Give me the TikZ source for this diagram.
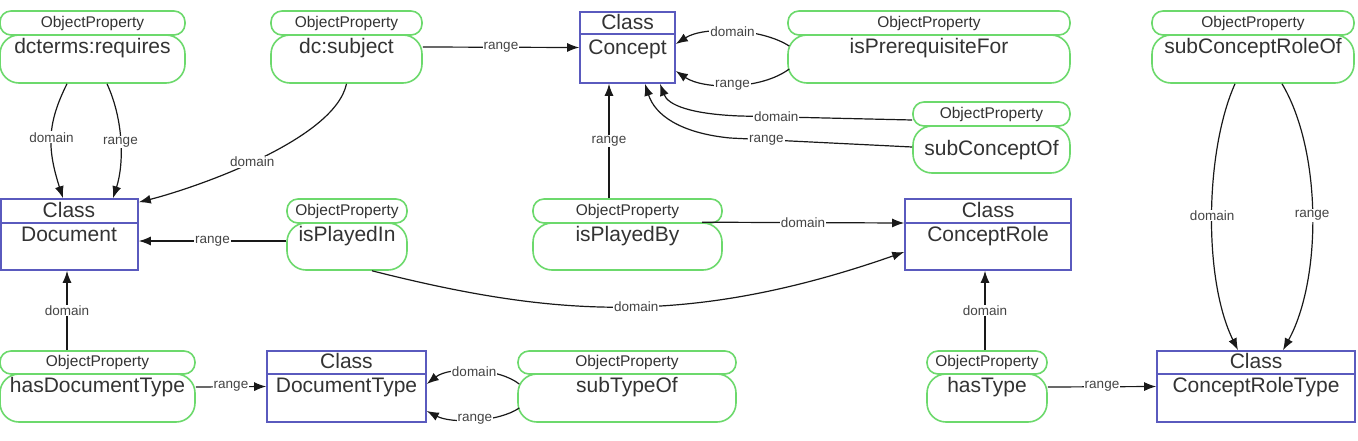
\documentclass[tikz,border=0pt]{standalone}
\usepackage{fontspec}
\setmainfont{Liberation Sans}
\usetikzlibrary{arrows.meta}
\definecolor{pgreen}{HTML}{6CD96C}
\definecolor{cblue}{HTML}{5A5ABE}
\definecolor{txt}{HTML}{333333}
\definecolor{lbltxt}{HTML}{444444}
\tikzset{
  phead/.style={draw=pgreen, line width=1.6pt, fill=white, rounded corners=11pt, inner sep=0pt, minimum height=24pt, text=txt, font=\fontsize{15.5}{15.5}\selectfont},
  pbody/.style={draw=pgreen, line width=1.6pt, fill=white, rounded corners=19pt, inner sep=0pt, minimum height=48pt},
  nm/.style={anchor=base, inner sep=0pt, text=txt, font=\fontsize{21}{21}\selectfont},
  cbox/.style={draw=cblue, line width=1.6pt, fill=white, inner sep=0pt, minimum height=71pt},
  cdiv/.style={draw=cblue, line width=1.6pt},
  edge/.style={draw=black!90, line width=1.2pt, -{Latex[length=12pt,width=9pt]}},
  lbl/.style={fill=white, inner sep=1pt, text=lbltxt, font=\fontsize{13.5}{13.5}\selectfont}
}
\begin{document}
\begin{tikzpicture}[x=1pt,y=-1pt]
\useasboundingbox (0,0) rectangle (1358,440);
% ---------- property nodes ----------
% dcterms:requires
\node[pbody, minimum width=185pt] (reqB) at (92.5,59) {};
\node[phead, minimum width=185pt] (reqH) at (92.5,23) {ObjectProperty};
\node[nm] (reqN) at (92.5,53) {dcterms:requires};
% dc:subject
\node[pbody, minimum width=151pt] (subjB) at (346.5,59) {};
\node[phead, minimum width=151pt] (subjH) at (346.5,23) {ObjectProperty};
\node[nm] (subjN) at (346.5,53) {dc:subject};
% isPrerequisiteFor
\node[pbody, minimum width=282pt] (preB) at (929,59) {};
\node[phead, minimum width=282pt] (preH) at (929,23) {ObjectProperty};
\node[nm] (preN) at (929,53) {isPrerequisiteFor};
% subConceptOf
\node[pbody, minimum width=157pt, minimum height=47pt] (subcB) at (991.5,149.5) {};
\node[phead, minimum width=157pt] (subcH) at (991.5,114) {ObjectProperty};
\node[nm] (subcN) at (991.5,155) {subConceptOf};
% subConceptRoleOf
\node[pbody, minimum width=202pt] (scrB) at (1253,59) {};
\node[phead, minimum width=202pt] (scrH) at (1253,23) {ObjectProperty};
\node[nm] (scrN) at (1253,53) {subConceptRoleOf};
% isPlayedIn
\node[pbody, minimum width=120pt, minimum height=47pt] (pinB) at (347,246.5) {};
\node[phead, minimum width=120pt] (pinH) at (347,211) {ObjectProperty};
\node[nm] (pinN) at (347,241.5) {isPlayedIn};
% isPlayedBy
\node[pbody, minimum width=189pt, minimum height=47pt] (pbyB) at (627.5,246.5) {};
\node[phead, minimum width=189pt] (pbyH) at (627.5,211) {ObjectProperty};
\node[nm] (pbyN) at (627.5,241.5) {isPlayedBy};
% hasDocumentType
\node[pbody, minimum width=195pt] (hdtB) at (97.5,398) {};
\node[phead, minimum width=195pt, minimum height=23pt] (hdtH) at (97.5,362.5) {ObjectProperty};
\node[nm] (hdtN) at (97.5,392.5) {hasDocumentType};
% subTypeOf
\node[pbody, minimum width=218pt] (stB) at (627,398) {};
\node[phead, minimum width=218pt, minimum height=23pt] (stH) at (627,362.5) {ObjectProperty};
\node[nm] (stN) at (627,392.5) {subTypeOf};
% hasType
\node[pbody, minimum width=120pt] (htB) at (987,398) {};
\node[phead, minimum width=120pt, minimum height=23pt] (htH) at (987,362.5) {ObjectProperty};
\node[nm] (htN) at (987,392.5) {hasType};
% ---------- class nodes ----------
% Concept
\node[cbox, minimum width=95pt] (concept) at (627.5,47.5) {};
\draw[cdiv] (580,34) -- (675,34);
\node[nm] (conceptH) at (627.5,29) {Class};
\node[nm] (conceptN) at (627.5,54) {Concept};
% Document
\node[cbox, minimum width=137pt] (doc) at (69.5,234.5) {};
\draw[cdiv] (1,223) -- (138,223);
\node[nm] (docH) at (69,217) {Class};
\node[nm] (docN) at (69,241) {Document};
% ConceptRole
\node[cbox, minimum width=166pt] (crole) at (988,234.5) {};
\draw[cdiv] (905,223) -- (1071,223);
\node[nm] (croleH) at (988,217) {Class};
\node[nm] (croleN) at (988,241) {ConceptRole};
% DocumentType
\node[cbox, minimum width=159pt] (dtype) at (346.5,386.5) {};
\draw[cdiv] (267,374) -- (426,374);
\node[nm] (dtypeH) at (346.5,368.5) {Class};
\node[nm] (dtypeN) at (346.5,392.5) {DocumentType};
% ConceptRoleType
\node[cbox, minimum width=198pt] (crt) at (1256,386.5) {};
\draw[cdiv] (1157,374) -- (1355,374);
\node[nm] (crtH) at (1256,368.5) {Class};
\node[nm] (crtN) at (1256,392.5) {ConceptRoleType};
% ---------- connectors ----------
% dcterms:requires -> Document
\draw[edge] ([xshift=-25.5pt]reqB.south) .. controls +(-20,40) and +(-16,-50) .. node[lbl]{domain} ([xshift=-6.5pt]doc.north);
\draw[edge] ([xshift=14.5pt]reqB.south) .. controls +(17,37) and +(11,-34) .. node[lbl]{range} ([xshift=43.5pt]doc.north);
% dc:subject
\draw[edge] (subjB.south) .. controls +(-12,57) and +(52,-13) .. node[lbl, pos=0.52]{domain} ([shift={(0,4)}]doc.north east);
\draw[edge] ([shift={(0,-12)}]subjB.east) -- node[lbl]{range} (concept.west);
% isPrerequisiteFor -> Concept
\draw[edge] ([shift={(2,-13)}]preB.west) .. controls +(-28,-18) and +(28,-18) .. node[lbl]{domain} ([shift={(0,-3.5)}]concept.east);
\draw[edge] ([shift={(2,10)}]preB.west) .. controls +(-28,21) and +(28,19) .. node[lbl]{range} ([shift={(0,23.5)}]concept.east);
% subConceptOf -> Concept
\draw[edge] ([shift={(0,6)}]subcH.west) -- node[lbl, pos=0.79]{domain} (740,116) .. controls (690,114) and (668,105) .. ([xshift=32.5pt]concept.south);
\draw[edge] ([shift={(0,-2.5)}]subcB.west) -- node[lbl, pos=0.8]{range} (730,138) .. controls (680,133) and (655,115) .. ([xshift=17.5pt]concept.south);
% isPlayedBy
\draw[edge] ([xshift=-18.5pt]pbyH.north) -- node[lbl]{range} ([xshift=-18.5pt]concept.south);
\draw[edge] ([xshift=74.5pt]pbyB.north) -- node[lbl]{domain} ([shift={(0,-11.5)}]crole.west);
% isPlayedIn
\draw[edge] ([shift={(0,-5.5)}]pinB.west) -- node[lbl]{range} ([shift={(0,6.5)}]doc.east);
\draw[edge] ([xshift=25pt]pinB.south) .. controls +(175,44) and +(-220,77) .. node[lbl, pos=0.53]{domain} ([shift={(0,17.5)}]crole.west);
% hasDocumentType
\draw[edge] ([xshift=-30.5pt]hdtH.north) -- node[lbl]{domain} ([xshift=-2.5pt]doc.south);
\draw[edge] ([shift={(0,-11)}]hdtB.east) -- node[lbl]{range} (dtype.west);
% subTypeOf -> DocumentType
\draw[edge] ([shift={(2,-14)}]stB.west) .. controls +(-20,-16) and +(23,-18) .. node[lbl]{domain} ([shift={(0,-2.5)}]dtype.east);
\draw[edge] ([shift={(2,10)}]stB.west) .. controls +(-20,14) and +(25,13) .. node[lbl]{range} ([shift={(0,24.5)}]dtype.east);
% hasType
\draw[edge] ([xshift=-2pt]htH.north) -- node[lbl]{domain} ([xshift=-3pt]crole.south);
\draw[edge] ([shift={(0,-11)}]htB.east) -- node[lbl]{range} (crt.west);
% subConceptRoleOf -> ConceptRoleType
\draw[edge] ([xshift=-18pt]scrB.south) .. controls +(-30,67) and +(-35,-71) .. node[lbl]{domain} ([xshift=-18pt]crt.north);
\draw[edge] ([xshift=29pt]scrB.south) .. controls +(40,67) and +(39,-71) .. node[lbl]{range} ([xshift=27pt]crt.north);
\end{tikzpicture}
\end{document}
